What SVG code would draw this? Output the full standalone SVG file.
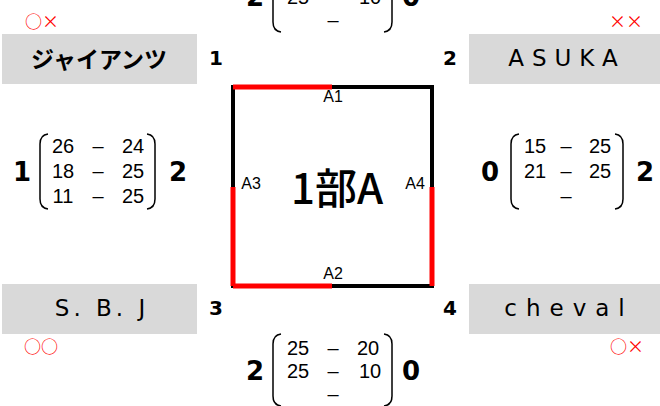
<svg xmlns="http://www.w3.org/2000/svg" width="660" height="406" viewBox="0 0 660 406">
<style>
.box{fill:#d9d9d9}
.name{font-family:"Noto Sans CJK JP","Liberation Sans",sans-serif;font-size:23px;font-weight:bold;fill:#000;text-anchor:middle;dominant-baseline:central}
.lat{font-family:"DejaVu Sans","Liberation Sans",sans-serif;font-size:23px;font-weight:500;fill:#000;text-anchor:middle;dominant-baseline:central}
.rec{font-family:"Noto Sans CJK JP","DejaVu Sans",sans-serif;font-size:17px;fill:#f00;text-anchor:middle;dominant-baseline:central}
.num{font-family:"DejaVu Sans","Liberation Sans",sans-serif;font-size:20px;font-weight:900;fill:#000;text-anchor:middle;dominant-baseline:central}
.sc{font-family:"DejaVu Sans","Liberation Sans",sans-serif;font-size:26px;font-weight:900;fill:#000;text-anchor:middle;dominant-baseline:central}
.pt{font-family:"Liberation Sans",Arial,sans-serif;font-size:20px;fill:#000;text-anchor:middle;dominant-baseline:central}
.br{fill:none;stroke:#000;stroke-width:1.5}
.lbl{font-family:"Liberation Sans",Arial,sans-serif;font-size:16px;fill:#000;text-anchor:middle;dominant-baseline:central}
.ttl{font-family:"Noto Sans CJK JP","Liberation Sans",sans-serif;font-size:42px;font-weight:500;fill:#000;text-anchor:middle;dominant-baseline:central}
</style>
<g id="court">
<rect x="233" y="87" width="199" height="199" fill="none" stroke="#000" stroke-width="4"/>
<g stroke="#f00" stroke-width="5" fill="none">
<line x1="233" y1="87" x2="332" y2="87"/>
<line x1="233" y1="187" x2="233" y2="286"/>
<line x1="233" y1="286" x2="332" y2="286"/>
<line x1="432" y1="187" x2="432" y2="286"/>
</g>
<text class="lbl" x="333" y="96">A1</text>
<text class="lbl" x="333" y="273">A2</text>
<text class="lbl" x="251" y="183">A3</text>
<text class="lbl" x="415" y="183">A4</text>
<text class="ttl" x="337" y="185">1部A</text>
</g>
<g id="team1">
<rect class="box" x="2" y="34" width="195" height="50"/>
<text class="name" x="99" y="58">ジャイアンツ</text>
<text class="rec" x="42" y="20">○×</text>
<text class="num" x="216" y="58">1</text>
</g>
<g id="team2">
<rect class="box" x="469" y="34" width="191" height="50"/>
<text class="lat" x="567" y="58" letter-spacing="8">ASUKA</text>
<text class="rec" x="626" y="20">××</text>
<text class="num" x="450" y="58">2</text>
</g>
<g id="team3">
<rect class="box" x="2" y="284" width="195" height="50"/>
<text class="lat" x="102" y="308" letter-spacing="4">S. B. J</text>
<text class="rec" x="41" y="345">○○</text>
<text class="num" x="216" y="308">3</text>
</g>
<g id="team4">
<rect class="box" x="469" y="284" width="191" height="50"/>
<text class="lat" x="569" y="308" letter-spacing="9">cheval</text>
<text class="rec" x="627" y="345">○×</text>
<text class="num" x="450" y="308">4</text>
</g>
<g id="connectors">
<g id="match-left">
<text class="sc" x="22" y="172">1</text>
<path class="br" d="M48,134 Q40,135 40,144 L40,199 Q40,208 48,209"/>
<path class="br" d="M147,134 Q155,135 155,144 L155,199 Q155,208 147,209"/>
<text class="pt" x="63" y="146">26</text><text class="pt" x="98" y="146">–</text><text class="pt" x="133" y="146">24</text>
<text class="pt" x="63" y="171">18</text><text class="pt" x="98" y="171">–</text><text class="pt" x="133" y="171">25</text>
<text class="pt" x="63" y="196">11</text><text class="pt" x="98" y="196">–</text><text class="pt" x="133" y="196">25</text>
<text class="sc" x="178" y="172">2</text>
</g>
<g id="match-right">
<text class="sc" x="490" y="172">0</text>
<path class="br" d="M519,134 Q511,135 511,144 L511,199 Q511,208 519,209"/>
<path class="br" d="M615,134 Q623,135 623,144 L623,199 Q623,208 615,209"/>
<text class="pt" x="535" y="146">15</text><text class="pt" x="566" y="146">–</text><text class="pt" x="600" y="146">25</text>
<text class="pt" x="535" y="171">21</text><text class="pt" x="566" y="171">–</text><text class="pt" x="600" y="171">25</text>
<text class="pt" x="566" y="196">–</text>
<text class="sc" x="645" y="172">2</text>
</g>
<g id="match-bottom">
<text class="sc" x="255" y="371">2</text>
<path class="br" d="M281,334 Q273,335 273,344 L273,396 Q273,405 281,406"/>
<path class="br" d="M384,334 Q392,335 392,344 L392,396 Q392,405 384,406"/>
<text class="pt" x="298" y="348">25</text><text class="pt" x="333" y="348">–</text><text class="pt" x="368" y="348">20</text>
<text class="pt" x="298" y="371">25</text><text class="pt" x="333" y="371">–</text><text class="pt" x="370" y="371">10</text>
<text class="pt" x="333" y="394">–</text>
<text class="sc" x="411" y="371">0</text>
</g>
<g id="match-top">
<text class="sc" x="255" y="-3">2</text>
<path class="br" d="M281,-40 Q273,-39 273,-30 L273,22 Q273,31 281,32"/>
<path class="br" d="M384,-40 Q392,-39 392,-30 L392,22 Q392,31 384,32"/>
<text class="pt" x="298" y="-3">25</text><text class="pt" x="333" y="-3">–</text><text class="pt" x="370" y="-3">10</text>
<text class="pt" x="333" y="20">–</text>
<text class="sc" x="411" y="-3">0</text>
</g>
</g>
</svg>
